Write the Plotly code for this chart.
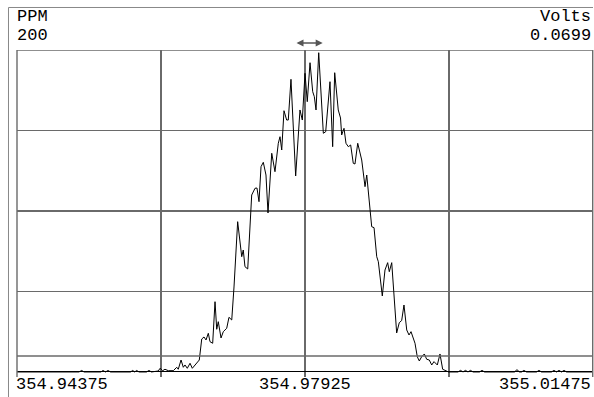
import plotly.graph_objects as go

# ---- data (frequency in MHz, amplitude in volts) ----
freq_mhz = [
    354.94375, 354.95139, 354.95173, 354.95201, 354.95410, 354.95435, 354.95466,
    354.95497, 354.95528, 354.95774, 354.95801, 354.95826, 354.95850, 354.95879,
    354.95971, 354.96002, 354.96033, 354.96117, 354.96138, 354.96171, 354.96199,
    354.96240, 354.96302, 354.96344, 354.96363, 354.96397, 354.96425, 354.96446,
    354.96474, 354.96508, 354.96536, 354.96569, 354.96622, 354.96652, 354.96680,
    354.96705, 354.96733, 354.96754, 354.96787, 354.96816, 354.96837, 354.96856,
    354.96890, 354.96918, 354.96960, 354.96988, 354.97022, 354.97050, 354.97095,
    354.97145, 354.97164, 354.97185, 354.97219, 354.97268, 354.97309, 354.97333,
    354.97358, 354.97383, 354.97411, 354.97444, 354.97469, 354.97515, 354.97555,
    354.97596, 354.97617, 354.97638, 354.97666, 354.97699, 354.97719, 354.97752,
    354.97810, 354.97863, 354.97892, 354.97925, 354.97953, 354.97987, 354.98020,
    354.98040, 354.98061, 354.98094, 354.98151, 354.98180, 354.98233, 354.98266,
    354.98291, 354.98335, 354.98363, 354.98377, 354.98406, 354.98430, 354.98459,
    354.98488, 354.98520, 354.98541, 354.98575, 354.98624, 354.98665, 354.98686,
    354.98726, 354.98747, 354.98776, 354.98809, 354.98829, 354.98878, 354.98911,
    354.98944, 354.98964, 354.98994, 354.99055, 354.99087, 354.99117, 354.99145,
    354.99179, 354.99207, 354.99232, 354.99281, 354.99309, 354.99334, 354.99363,
    354.99396, 354.99425, 354.99457, 354.99487, 354.99515, 354.99556, 354.99589,
    354.99622, 354.99663, 354.99694, 354.99811, 354.99842, 354.99873, 354.99903,
    354.99934, 354.99965, 354.99996, 355.00076, 355.00107, 355.00138, 355.00507,
    355.00538, 355.00569, 355.00594, 355.00624, 355.00655, 355.00779, 355.00809,
    355.00840, 355.00963, 355.00994, 355.01025, 355.01056, 355.01087, 355.01118,
    355.01148, 355.01475,
]

amplitude_v = [
    0.0, 0.0, 0.00033, 0.0, 0.0, 0.00033, 0.0,
    0.00033, 0.0, 0.0, 0.00033, 0.0, 0.00033, 0.0,
    0.0, 0.00033, 0.0, 0.00022, 0.00080, 0.00028, 0.00059,
    0.00028, 0.00028, 0.00102, 0.00059, 0.00260, 0.00102, 0.00152,
    0.00080, 0.00189, 0.00080, 0.00152, 0.00260, 0.00716, 0.00760,
    0.00695, 0.00840, 0.00658, 0.00623, 0.01526, 0.00927, 0.01092,
    0.00738, 0.00875, 0.00949, 0.01187, 0.01129, 0.01845, 0.03263,
    0.02503, 0.02648, 0.02286, 0.02236, 0.03842, 0.03988, 0.03994,
    0.03697, 0.04457, 0.04552, 0.04276, 0.03452, 0.04748, 0.04348,
    0.04965, 0.05108, 0.04819, 0.05672, 0.05470, 0.05470, 0.06354,
    0.04255, 0.05688, 0.05470, 0.06484, 0.05868, 0.06714, 0.06085,
    0.05976, 0.05688, 0.06931, 0.05182, 0.05216, 0.06302, 0.04891,
    0.06497, 0.05688, 0.05514, 0.05145, 0.05290, 0.04965, 0.04891,
    0.04928, 0.04530, 0.04515, 0.04965, 0.04602, 0.04023, 0.04276,
    0.03445, 0.03154, 0.03133, 0.02503, 0.02394, 0.01650, 0.02214,
    0.02373, 0.02177, 0.02373, 0.00847, 0.01070, 0.01118, 0.01454,
    0.00912, 0.00803, 0.00875, 0.00623, 0.00332, 0.00239, 0.00332,
    0.00391, 0.00276, 0.00260, 0.00152, 0.00225, 0.00152, 0.00391,
    0.00059, 0.00022, 0.0, 0.0, 0.00035, 0.0, 0.00035,
    0.0, 0.00035, 0.0, 0.0, 0.00035, 0.0, 0.0,
    0.00050, 0.0, 0.0, 0.00035, 0.0, 0.0, 0.00035,
    0.0, 0.0, 0.00035, 0.0, 0.00035, 0.0, 0.00035,
    0.0, 0.0,
]

x_start, x_center, x_end = 354.94375, 354.97925, 355.01475
x_tick_labels = ["354.94375", "354.97925", "355.01475"]
x_grid = [354.96150, 354.97925, 354.99700]
y_full_scale = 0.0699
y_grid = [0.017475, 0.03495, 0.052425]
noise_level = 0.00347
marker_span = [354.97802, 354.98143]
y_unit_left, y_scale_left = "PPM", "200"
y_unit_right, y_scale_right = "Volts", "0.0699"

FONT = "Liberation Mono, Courier New, monospace"
GRID = "#6a6a6a"

fig = go.Figure()
fig.add_trace(go.Scatter(
    x=freq_mhz, y=amplitude_v, mode="lines",
    line=dict(color="black", width=1), hoverinfo="skip", showlegend=False,
))

fig.update_layout(
    width=594, height=397,
    margin=dict(l=17, r=1, t=50, b=20),
    paper_bgcolor="white", plot_bgcolor="white",
    showlegend=False,
    xaxis=dict(
        range=[x_start, x_end], tickmode="array", tickvals=x_grid,
        showticklabels=False, ticks="", showgrid=True, gridcolor=GRID, gridwidth=1.4,
        zeroline=False, showline=False, fixedrange=True,
    ),
    yaxis=dict(
        range=[-0.00109, y_full_scale], tickmode="array", tickvals=y_grid,
        showticklabels=False, ticks="", showgrid=True, gridcolor=GRID, gridwidth=1.4,
        zeroline=True, zerolinecolor="black", zerolinewidth=1,
        showline=False, fixedrange=True,
    ),
)

shapes = [
    dict(type="line", xref="paper", yref="y", x0=0, x1=1, y0=y_full_scale, y1=y_full_scale,
         line=dict(color=GRID, width=1.4)),
    dict(type="line", xref="paper", yref="paper", x0=0, x1=0, y0=0, y1=1,
         line=dict(color=GRID, width=1.4)),
    dict(type="line", xref="paper", yref="paper", x0=0.9995, x1=0.9995, y0=0, y1=1,
         line=dict(color=GRID, width=1.4)),
    dict(type="line", xref="paper", yref="y", x0=0, x1=1, y0=noise_level, y1=noise_level,
         line=dict(color=GRID, width=1.4)),
    # outer frame
    dict(type="line", xref="paper", yref="paper", x0=-0.01476, x1=1.0, y0=1.13, y1=1.13,
         line=dict(color="#888888", width=1)),
    dict(type="line", xref="paper", yref="paper", x0=-0.01476, x1=-0.01476, y0=1.13, y1=-0.1,
         line=dict(color="#888888", width=1)),
]
fig.update_layout(shapes=shapes)

ann = []
ann.append(dict(text=y_unit_left, x=0, y=1.0, xref="paper", yref="paper", xanchor="left",
                yanchor="bottom", yshift=22, xshift=-2, showarrow=False,
                font=dict(family=FONT, size=17, color="black")))
ann.append(dict(text=y_scale_left, x=0, y=1.0, xref="paper", yref="paper", xanchor="left",
                yanchor="bottom", yshift=3, xshift=-2, showarrow=False,
                font=dict(family=FONT, size=17, color="black")))
ann.append(dict(text=y_unit_right, x=1, y=1.0, xref="paper", yref="paper", xanchor="right",
                yanchor="bottom", yshift=22, xshift=0, showarrow=False,
                font=dict(family=FONT, size=17, color="black")))
ann.append(dict(text=y_scale_right, x=1, y=1.0, xref="paper", yref="paper", xanchor="right",
                yanchor="bottom", yshift=3, xshift=0, showarrow=False,
                font=dict(family=FONT, size=17, color="black")))
for val, lab, anchor in zip([x_start, x_center, x_end], x_tick_labels, ["left", "center", "right"]):
    ann.append(dict(text=lab, x=val, y=0, xref="x", yref="paper", xanchor=anchor,
                    yanchor="bottom", yshift=-19, xshift=(-3 if anchor == "left" else 0),
                    showarrow=False, font=dict(family=FONT, size=17, color="black")))
ann.append(dict(text="", x=marker_span[1], y=1.0214, xref="x", yref="paper",
                ax=marker_span[0], ay=0, axref="x", ayref="pixel",
                showarrow=True, arrowside="end+start", arrowhead=2, arrowsize=1,
                arrowwidth=1.4, arrowcolor="#555555"))
fig.update_layout(annotations=ann)

# remove the default page margin so the figure fills the window exactly
fig.write_html(
    "out.html",
    config={"displayModeBar": False, "staticPlot": True},
    post_script="document.body.style.margin='0';document.body.style.overflow='hidden';",
)
